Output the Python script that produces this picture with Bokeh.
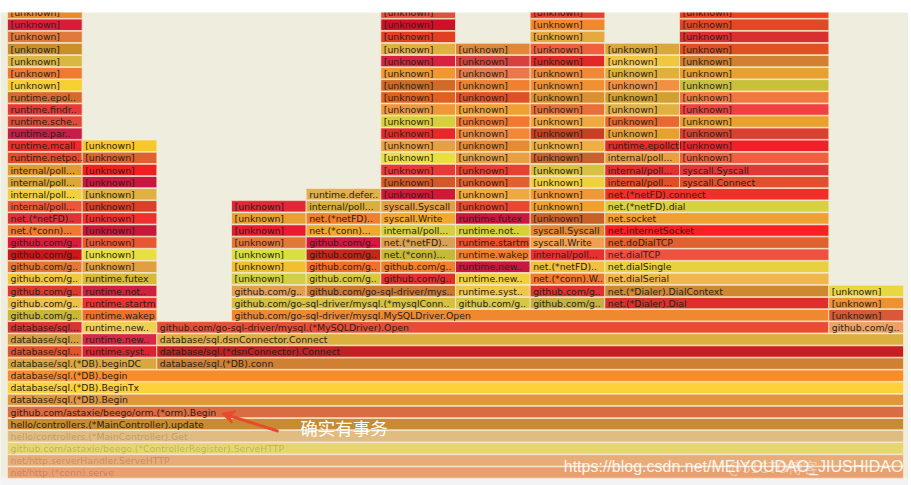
from bokeh.plotting import figure
from bokeh.models import ColumnDataSource, Range1d, Label, Arrow, VeeHead, BoxAnnotation
from bokeh.core.properties import value
from bokeh.embed import file_html
from bokeh.resources import INLINE

# ---------------- data: frames per stack depth (name, samples); None = no frame ----------------
U = "[unknown]"
L00 = [("net/http.(*conn).serve", 12)]
L01 = [("net/http.serverHandler.ServeHTTP", 12)]
L02 = [("github.com/astaxie/beego.(*ControllerRegister).ServeHTTP", 12)]
L03 = [("hello/controllers.(*MainController).Get", 12)]
L04 = [("hello/controllers.(*MainController).update", 12)]
L05 = [("github.com/astaxie/beego/orm.(*orm).Begin", 12)]
L06 = [("database/sql.(*DB).Begin", 12)]
L07 = [("database/sql.(*DB).BeginTx", 12)]
L08 = [("database/sql.(*DB).begin", 12)]
L09 = [("database/sql.(*DB).beginDC", 2), ("database/sql.(*DB).conn", 10)]
L10 = [("database/sql...", 1), ("runtime.syst..", 1), ("database/sql.(*dsnConnector).Connect", 10)]
L11 = [("database/sql...", 1), ("runtime.new..", 1), ("database/sql.dsnConnector.Connect", 10)]
L12 = [("database/sql...", 1), ("runtime.new..", 1),
       ("github.com/go-sql-driver/mysql.(*MySQLDriver).Open", 9), ("github.com/g..", 1)]
L13 = [("github.com/g..", 1), ("runtime.wakep", 1), (None, 1),
       ("github.com/go-sql-driver/mysql.MySQLDriver.Open", 8), (U, 1)]
L14 = [("github.com/g..", 1), ("runtime.startm", 1), (None, 1),
       ("github.com/go-sql-driver/mysql.(*mysqlConn..", 3), ("github.com/g..", 1),
       ("github.com/g..", 1), ("net.(*Dialer).Dial", 3), (U, 1)]
L15 = [("github.com/g..", 1), ("runtime.not..", 1), (None, 1), ("github.com/g..", 1),
       ("github.com/go-sql-driver/mys..", 2), ("runtime.syst..", 1), ("github.com/g..", 1),
       ("net.(*Dialer).DialContext", 3), (U, 1)]
L16 = [("github.com/g..", 1), ("runtime.futex", 1), (None, 1), (U, 1), ("github.com/g..", 1),
       ("github.com/g..", 1), ("runtime.new..", 1), ("net.(*conn).W..", 1), ("net.dialSerial", 3)]
L17 = [("github.com/g..", 1), (U, 1), (None, 1), (U, 1), ("github.com/g..", 1),
       ("github.com/g..", 1), ("runtime.new..", 1), ("net.(*netFD)..", 1), ("net.dialSingle", 3)]
L18 = [("github.com/g..", 1), (U, 1), (None, 1), (U, 1), ("github.com/g..", 1),
       ("net.(*conn)...", 1), ("runtime.wakep", 1), ("internal/poll...", 1), ("net.dialTCP", 3)]
L19 = [("github.com/g..", 1), (U, 1), (None, 1), (U, 1), ("github.com/g..", 1),
       ("net.(*netFD)..", 1), ("runtime.startm", 1), ("syscall.Write", 1), ("net.doDialTCP", 3)]
L20 = [("net.(*conn)...", 1), (U, 1), (None, 1), (U, 1), ("net.(*conn)...", 1),
       ("internal/poll...", 1), ("runtime.not..", 1), ("syscall.Syscall", 1), ("net.internetSocket", 3)]
L21 = [("net.(*netFD)..", 1), (U, 1), (None, 1), (U, 1), ("net.(*netFD)..", 1),
       ("syscall.Write", 1), ("runtime.futex", 1), (U, 1), ("net.socket", 3)]
L22 = [("internal/poll...", 1), (U, 1), (None, 1), (U, 1), ("internal/poll...", 1),
       ("syscall.Syscall", 1), (U, 1), (U, 1), ("net.(*netFD).dial", 3)]
L23 = [("internal/poll...", 1), (U, 1), (None, 2), ("runtime.defer..", 1),
       (U, 1), (U, 1), (U, 1), ("net.(*netFD).connect", 3)]
L24 = [("internal/poll...", 1), (U, 1), (None, 3), (U, 1), (U, 1), (U, 1),
       ("internal/poll...", 1), ("syscall.Connect", 2)]
L25 = [("internal/poll...", 1), (U, 1), (None, 3), (U, 1), (U, 1), (U, 1),
       ("internal/poll...", 1), ("syscall.Syscall", 2)]
L26 = [("runtime.netpo..", 1), (U, 1), (None, 3), (U, 1), (U, 1), (U, 1),
       ("internal/poll...", 1), (U, 2)]
L27 = [("runtime.mcall", 1), (U, 1), (None, 3), (U, 1), (U, 1), (U, 1),
       ("runtime.epollctl", 1), (U, 2)]
L28 = [("runtime.par..", 1), (None, 4), (U, 1), (U, 1), (U, 1), (U, 1), (U, 2)]
L29 = [("runtime.sche..", 1), (None, 4), (U, 1), (U, 1), (U, 1), (U, 1), (U, 2)]
L30 = [("runtime.findr..", 1), (None, 4), (U, 1), (U, 1), (U, 1), (U, 1), (U, 2)]
L31 = [("runtime.epol..", 1), (None, 4), (U, 1), (U, 1), (U, 1), (U, 1), (U, 2)]
L32 = [(U, 1), (None, 4), (U, 1), (U, 1), (U, 1), (U, 1), (U, 2)]
L33 = [(U, 1), (None, 4), (U, 1), (U, 1), (U, 1), (U, 1), (U, 2)]
L34 = [(U, 1), (None, 4), (U, 1), (U, 1), (U, 1), (U, 1), (U, 2)]
L35 = [(U, 1), (None, 4), (U, 1), (U, 1), (U, 1), (U, 1), (U, 2)]
L36 = [(U, 1), (None, 4), (U, 1), (None, 1), (U, 1), (None, 1), (U, 2)]
L37 = [(U, 1), (None, 4), (U, 1), (None, 1), (U, 1), (None, 1), (U, 2)]
L38 = [(U, 1), (None, 4), (U, 1), (None, 1), (U, 1), (None, 1), (U, 2)]

LEVELS = [L00, L01, L02, L03, L04, L05, L06, L07, L08, L09, L10, L11, L12, L13, L14, L15,
          L16, L17, L18, L19, L20, L21, L22, L23, L24, L25, L26, L27, L28, L29, L30, L31,
          L32, L33, L34, L35, L36, L37, L38]

# ---------------- styles: fill colour of each frame, per depth ----------------
C00 = ["#e8a070"]
C01 = ["#e8ac78"]
C02 = ["#e6d672"]
C03 = ["#e0bc80"]
C04 = ["#c98b32"]
C05 = ["#d96c40"]
C06 = ["#e1953c"]
C07 = ["#fdd13a"]
C08 = ["#f98c28"]
C09 = ["#d8a840", "#d08032"]
C10 = ["#e8502a", "#e02030", "#c42020"]
C11 = ["#d4a040", "#d82848", "#dcb040"]
C12 = ["#e03030", "#f0d050", "#e84c35", "#f0a060"]
C13 = ["#c8b838", "#f07028", "#f08830", "#d85838"]
C14 = ["#f0c040", "#f03030", "#d8c038", "#d8c840", "#c8b040", "#dc3028", "#f09030"]
C15 = ["#e03830", "#d02040", "#e0a050", "#d07830", "#f0c848", "#e03030", "#d08830", "#e8d840"]
C16 = ["#f0c840", "#d8b838", "#d0d040", "#d8c840", "#e03030", "#f0d040", "#f07830", "#f0b848"]
C17 = ["#e07838", "#e0a040", "#f0c030", "#f07028", "#f08030", "#c81840", "#f0c040", "#e8d040"]
C18 = ["#c81818", "#e8e040", "#d8e040", "#c02818", "#c8b838", "#f08030", "#e83030", "#f05040"]
C19 = ["#d81c3c", "#e85830", "#e07838", "#d01840", "#d8a050", "#e85030", "#f0a050", "#e06030"]
C20 = ["#f07830", "#c81838", "#e81c30", "#f0a830", "#d8d040", "#d8d038", "#e08838", "#f82020"]
C21 = ["#e03038", "#f03030", "#e8a030", "#f08030", "#f0a830", "#c81840", "#c86028", "#f0a030"]
C22 = ["#e85838", "#d84028", "#e02838", "#d8b040", "#e0a048", "#e84830", "#f0a030", "#d8d040"]
C23 = ["#f0d040", "#e0b040", "#e0b050", "#d01838", "#f0a840", "#f09838", "#f03028"]
C24 = ["#d8a838", "#c81840", "#d05a28", "#e06030", "#f0d040", "#e05028", "#e05030"]
C25 = ["#e09a30", "#f02020", "#e83838", "#e84030", "#d8c040", "#e03030", "#e03838"]
C26 = ["#e84a28", "#e06030", "#e8e040", "#e8a040", "#c86030", "#e8a040", "#f06040"]
C27 = ["#f02828", "#f8c828", "#e8a040", "#e88a30", "#f0b040", "#e82828", "#f02028"]
C28 = ["#c81c48", "#e82828", "#f08838", "#c84020", "#e8a030", "#d84030"]
C29 = ["#e04838", "#d8d038", "#f07830", "#f0a840", "#e86830", "#e8a030"]
C30 = ["#e83838", "#f09838", "#f0a030", "#e87038", "#e0b040", "#f04040"]
C31 = ["#d86a30", "#e06020", "#e05028", "#d89030", "#d0a030", "#f07840"]
C32 = ["#f5d030", "#d06a28", "#f08030", "#f09030", "#f09040", "#c8c038"]
C33 = ["#f07a30", "#f09830", "#e87848", "#f08838", "#e0b038", "#e8a030"]
C34 = ["#d8b840", "#d82040", "#d84040", "#e02828", "#f0c840", "#d08030"]
C35 = ["#c8902c", "#e0b040", "#e08838", "#f06040", "#d8a838", "#e05020"]
C36 = ["#e07a3a", "#e04020", "#e8a840", "#d83030"]
C37 = ["#d81c3c", "#d01028", "#f08830", "#e04828"]
C38 = ["#e88a30", "#e05040", "#e84030", "#f04020"]

COLORS = [C00, C01, C02, C03, C04, C05, C06, C07, C08, C09, C10, C11, C12, C13, C14, C15,
          C16, C17, C18, C19, C20, C21, C22, C23, C24, C25, C26, C27, C28, C29, C30, C31,
          C32, C33, C34, C35, C36, C37, C38]

FADED_DEPTHS = 4          # bottom frames drawn dimmed (ancestors of the selection)
TOTAL = sum(n for _, n in L00)

# ---------------- layout computed from the sample counts ----------------
src = dict(left=[], right=[], bottom=[], top=[], mid=[], name=[], color=[], talpha=[])
for depth, (frames, cols) in enumerate(zip(LEVELS, COLORS)):
    x = 0
    ci = 0
    for name, n in frames:
        if name is not None:
            src["left"].append(x)
            src["right"].append(x + n)
            src["bottom"].append(depth + 0.03)
            src["top"].append(depth + 0.97)
            src["mid"].append(depth + 0.5)
            src["name"].append(name)
            src["color"].append(cols[ci])
            src["talpha"].append(0.22 if depth < FADED_DEPTHS else 1.0)
            ci += 1
        x += n
source = ColumnDataSource(src)

W, H = 908, 485
TOP_PAD = 12
px_per_sample = 896 / TOTAL     # all samples span 896 px, starting 7 px in
x0 = -7 / px_per_sample
x1 = x0 + W / px_per_sample
row_px = 12.1
y0 = 0.5 - 13 / row_px          # chart's own bottom edge lies 8 px above the page bottom
y1 = y0 + (H - TOP_PAD) / row_px
chart_bottom = 0.5 - 5 / row_px

p = figure(width=W, height=H, x_range=Range1d(x0, x1), y_range=Range1d(y0, y1),
           output_backend="svg", toolbar_location=None,
           x_axis_location=None, y_axis_location=None,
           min_border_left=0, min_border_right=0, min_border_bottom=0, min_border_top=TOP_PAD)
p.grid.visible = False
p.outline_line_color = None
p.background_fill_color = "#efedde"
p.border_fill_color = "#ffffff"
p.add_layout(BoxAnnotation(top=chart_bottom, fill_color="#f3f3f5", fill_alpha=1.0,
                           line_color=None, level="underlay"))

p.quad(left="left", right="right", bottom="bottom", top="top", source=source,
       fill_color="color", line_color="#f6ead0", line_width=1, line_alpha=0.7)
p.text(x="left", y="mid", text="name", source=source, x_offset=3,
       text_font=value("DejaVu Sans"), text_font_size="9.3px", text_color="#2a2218",
       text_alpha="talpha", text_baseline="middle", text_align="left")

# ---------------- annotations on the screenshot ----------------
red = "#ea4a2c"
p.add_layout(Arrow(end=VeeHead(size=12, fill_color=red, line_color=red, line_width=2),
                   x_start=3.63, y_start=3.90, x_end=2.88, y_end=5.38,
                   line_color=red, line_width=3))
p.add_layout(Label(x=3.92, y=4.22, text="确实有事务", text_font="Noto Sans CJK SC",
                   text_font_size="17.5px", text_color="#ffffff", text_baseline="middle"))
p.add_layout(Label(x=7.45, y=1.0, text="https://blog.csdn.net/MEIYOUDAO_JIUSHIDAO",
                   text_font="Liberation Sans", text_font_size="16px",
                   text_color="#ffffff", text_alpha=0.9, text_baseline="middle"))
p.add_layout(Label(x=9.65, y=1.0, text="@51CTO博客",
                   text_font="Noto Sans CJK SC", text_font_size="15px",
                   text_color="#ffffff", text_alpha=0.45, text_baseline="middle"))

open("out.html", "w").write(file_html(p, INLINE))
